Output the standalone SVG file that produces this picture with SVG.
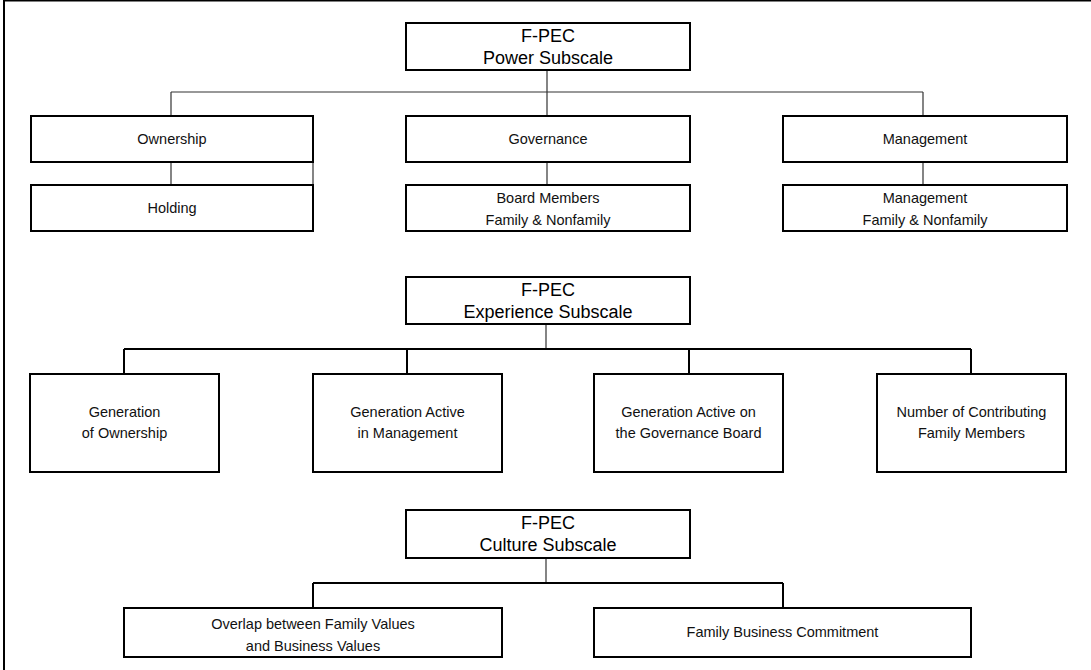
<svg xmlns="http://www.w3.org/2000/svg" width="1091" height="670" viewBox="0 0 1091 670">
  <style>
    .box { fill: #ffffff; stroke: #000000; stroke-width: 2; }
    .thin { fill: none; stroke: #333333; stroke-width: 1.2; }
    .thick { fill: none; stroke: #000000; stroke-width: 2; }
    .hd { font-family: "Liberation Sans", Arial, sans-serif; font-size: 18px; fill: #000; text-anchor: middle; }
    .lb { font-family: "Liberation Sans", Arial, sans-serif; font-size: 14.5px; fill: #111; text-anchor: middle; }
  </style>

  <!-- frame edges (top and left only) -->
  <g id="frame">
    <line x1="3" y1="0.8" x2="1091" y2="0.8" stroke="#000" stroke-width="1.6"/>
    <line x1="4" y1="0" x2="4" y2="670" stroke="#000" stroke-width="2"/>
  </g>

  <!-- connectors -->
  <g id="connectors">
    <!-- power subscale tree -->
    <line class="thin" x1="547" y1="70" x2="547" y2="116"/>
    <line class="thin" x1="171" y1="92" x2="923" y2="92"/>
    <line class="thin" x1="171" y1="92" x2="171" y2="116"/>
    <line class="thin" x1="923" y1="92" x2="923" y2="116"/>
    <line class="thin" x1="171" y1="162" x2="171" y2="185"/>
    <line class="thin" x1="313" y1="162" x2="313" y2="185"/>
    <line class="thin" x1="547" y1="162" x2="547" y2="185"/>
    <line class="thin" x1="923" y1="162" x2="923" y2="185"/>
    <!-- experience subscale tree -->
    <line class="thin" x1="546" y1="324" x2="546" y2="349"/>
    <line class="thick" x1="124" y1="349" x2="971" y2="349"/>
    <line class="thick" x1="124" y1="349" x2="124" y2="374"/>
    <line class="thick" x1="407" y1="349" x2="407" y2="374"/>
    <line class="thick" x1="689" y1="349" x2="689" y2="374"/>
    <line class="thick" x1="971" y1="349" x2="971" y2="374"/>
    <!-- culture subscale tree -->
    <line class="thin" x1="546" y1="558" x2="546" y2="583"/>
    <line class="thick" x1="313" y1="583" x2="783" y2="583"/>
    <line class="thick" x1="313" y1="583" x2="313" y2="608"/>
    <line class="thick" x1="783" y1="583" x2="783" y2="608"/>
  </g>

  <!-- power subscale -->
  <g id="power">
    <rect class="box" x="406" y="23" width="284" height="47"/>
    <text class="hd" x="548" y="42">F-PEC</text>
    <text class="hd" x="548" y="64">Power Subscale</text>
  </g>
  <g id="ownership">
    <rect class="box" x="31" y="116" width="282" height="46"/>
    <text class="lb" x="172" y="144">Ownership</text>
  </g>
  <g id="holding">
    <rect class="box" x="31" y="185" width="282" height="46"/>
    <text class="lb" x="172" y="213">Holding</text>
  </g>
  <g id="governance">
    <rect class="box" x="406" y="116" width="284" height="46"/>
    <text class="lb" x="548" y="144">Governance</text>
  </g>
  <g id="board-members">
    <rect class="box" x="406" y="185" width="284" height="46"/>
    <text class="lb" x="548" y="203">Board Members</text>
    <text class="lb" x="548" y="225">Family &amp; Nonfamily</text>
  </g>
  <g id="management">
    <rect class="box" x="783" y="116" width="284" height="46"/>
    <text class="lb" x="925" y="144">Management</text>
  </g>
  <g id="management-members">
    <rect class="box" x="783" y="185" width="284" height="46"/>
    <text class="lb" x="925" y="203">Management</text>
    <text class="lb" x="925" y="225">Family &amp; Nonfamily</text>
  </g>

  <!-- experience subscale -->
  <g id="experience">
    <rect class="box" x="406" y="277" width="284" height="47"/>
    <text class="hd" x="548" y="296">F-PEC</text>
    <text class="hd" x="548" y="318">Experience Subscale</text>
  </g>
  <g id="gen-ownership">
    <rect class="box" x="30" y="374" width="189" height="98"/>
    <text class="lb" x="124.5" y="417">Generation</text>
    <text class="lb" x="124.5" y="438">of Ownership</text>
  </g>
  <g id="gen-management">
    <rect class="box" x="313" y="374" width="189" height="98"/>
    <text class="lb" x="407.5" y="417">Generation Active</text>
    <text class="lb" x="407.5" y="438">in Management</text>
  </g>
  <g id="gen-board">
    <rect class="box" x="594" y="374" width="189" height="98"/>
    <text class="lb" x="688.5" y="417">Generation Active on</text>
    <text class="lb" x="688.5" y="438">the Governance Board</text>
  </g>
  <g id="contributing-members">
    <rect class="box" x="877" y="374" width="189" height="98"/>
    <text class="lb" x="971.5" y="417">Number of Contributing</text>
    <text class="lb" x="971.5" y="438">Family Members</text>
  </g>

  <!-- culture subscale -->
  <g id="culture">
    <rect class="box" x="406" y="510" width="284" height="48"/>
    <text class="hd" x="548" y="529">F-PEC</text>
    <text class="hd" x="548" y="551">Culture Subscale</text>
  </g>
  <g id="values-overlap">
    <rect class="box" x="124" y="608" width="378" height="49"/>
    <text class="lb" x="313" y="629">Overlap between Family Values</text>
    <text class="lb" x="313" y="651">and Business Values</text>
  </g>
  <g id="commitment">
    <rect class="box" x="594" y="608" width="377" height="49"/>
    <text class="lb" x="782.5" y="637">Family Business Commitment</text>
  </g>
</svg>
